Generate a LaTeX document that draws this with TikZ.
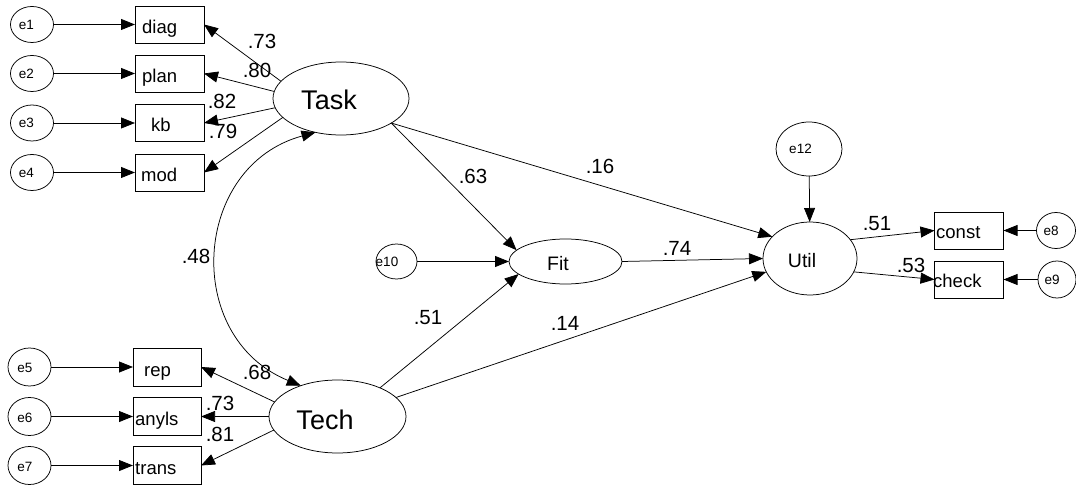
\documentclass[tikz,border=0pt]{standalone}
\usepackage{fontspec}
\setmainfont{Liberation Sans}
\usetikzlibrary{shapes.geometric,arrows.meta}

\tikzset{
  lat/.style={draw, ellipse, inner sep=0pt, outer sep=0pt, line width=0.75pt},
  obs/.style={draw, rectangle, inner sep=0pt, outer sep=0pt, line width=0.75pt,
              minimum width=69pt, minimum height=37pt},
  err/.style={lat, minimum width=43pt, minimum height=36pt},
  arr/.style={line width=0.75pt, -{Triangle[length=14pt,width=11pt]}},
  cov/.style={line width=0.75pt, {Triangle[length=14pt,width=11pt]}-{Triangle[length=14pt,width=11pt]}},
  boxtxt/.style={inner sep=0pt, anchor=base west, font=\fontsize{18.5}{20}\selectfont},
  lattxt/.style={inner sep=0pt, anchor=base},
  etxt/.style={inner sep=0pt, anchor=base, font=\fontsize{13.5}{15}\selectfont},
  coef/.style={inner sep=0pt, font=\fontsize{20.5}{22}\selectfont}
}

\begin{document}
\begin{tikzpicture}[x=1pt, y=-1pt]
\useasboundingbox (0,0) rectangle (1076,486);

% latent variables
\node[lat, minimum width=136pt, minimum height=73pt] (Task) at (341,98.5) {};
\node[lat, minimum width=137pt, minimum height=73pt] (Tech) at (337.5,416.5) {};
\node[lat, minimum width=113pt, minimum height=45pt] (Fit) at (565.5,261.5) {};
\node[lat, minimum width=94pt, minimum height=73pt] (Util) at (810,258.5) {};
\node[lattxt, font=\fontsize{27}{30}\selectfont] (tTask) at (329,110) {Task};
\node[lattxt, font=\fontsize{27}{30}\selectfont] (tTech) at (325,429) {Tech};
\node[lattxt, font=\fontsize{19.5}{21}\selectfont] (tFit) at (558,271) {Fit};
\node[lattxt, font=\fontsize{19.5}{21}\selectfont] (tUtil) at (802,268) {Util};

% indicators
\node[obs] (diag)  at (169.5,24.5) {};
\node[obs] (plan)  at (169.5,73.5) {};
\node[obs] (kb)    at (169.5,123) {};
\node[obs] (mod)   at (169.5,172.5) {};
\node[obs, minimum width=68pt, minimum height=38pt] (rep)   at (167,367) {};
\node[obs, minimum width=68pt, minimum height=38pt] (anyls) at (167,416.5) {};
\node[obs, minimum width=68pt, minimum height=38pt] (trans) at (167,465.5) {};
\node[obs] (const) at (969,230.5) {};
\node[obs] (check) at (969,279.5) {};

\node[boxtxt] (tdiag)  at (142,33.5) {diag};
\node[boxtxt] (tplan)  at (142,82.5) {plan};
\node[boxtxt] (tkb)    at (151,132) {kb};
\node[boxtxt] (tmod)   at (141,181.5) {mod};
\node[boxtxt] (trep)   at (144,376) {rep};
\node[boxtxt] (tanyls) at (135,425.5) {anyls};
\node[boxtxt] (ttrans) at (135,474.5) {trans};
\node[boxtxt] (tconst) at (936,239) {const};
\node[boxtxt] (tcheck) at (933,288) {check};

% error terms
\node[err] (e1) at (32,24.5) {};
\node[err] (e2) at (32,73.5) {};
\node[err] (e3) at (32,123) {};
\node[err] (e4) at (32,172.5) {};
\node[err, minimum height=38pt] (e5) at (29.5,367) {};
\node[err, minimum height=38pt] (e6) at (29.5,416.5) {};
\node[err, minimum height=38pt] (e7) at (29.5,465.5) {};
\node[err, minimum width=39pt] (e8) at (1056,230.5) {};
\node[err, minimum width=38pt, minimum height=37pt] (e9) at (1057,279.5) {};
\node[err, minimum width=41pt, minimum height=35pt] (e10) at (396.5,261.5) {};
\node[err, minimum width=66pt, minimum height=54pt] (e12) at (809,149) {};

\node[etxt] (te1) at (26.5,29.5) {e1};
\node[etxt] (te2) at (26.5,78.5) {e2};
\node[etxt] (te3) at (26.5,128) {e3};
\node[etxt] (te4) at (26.5,177.5) {e4};
\node[etxt] (te5) at (25,372.5) {e5};
\node[etxt] (te6) at (25,422) {e6};
\node[etxt] (te7) at (25,471) {e7};
\node[etxt] (te8) at (1051,235.5) {e8};
\node[etxt] (te9) at (1052,284.5) {e9};
\node[etxt] (te10) at (387,266.5) {e10};
\node[etxt] (te12) at (800.5,154) {e12};

% error paths
\draw[arr] (e1) -- (diag);
\draw[arr] (e2) -- (plan);
\draw[arr] (e3) -- (kb);
\draw[arr] (e4) -- (mod);
\draw[arr] (e5) -- (rep);
\draw[arr] (e6) -- (anyls);
\draw[arr] (e7) -- (trans);
\draw[arr] (e8) -- (const);
\draw[arr] (e9) -- (check);
\draw[arr] (e10) -- (Fit);
\draw[arr] (e12) -- (Util);

% measurement paths
\draw[arr] (Task.164) -- (diag.east);
\draw[arr] (Task.174) -- (plan.east);
\draw[arr] (Task.188) -- (kb.east);
\draw[arr] (Task.198) -- (mod.east);
\draw[arr] (Tech.167) -- (rep.east);
\draw[arr] (Tech.180) -- (anyls.east);
\draw[arr] (Tech.192) -- (trans.east);
\draw[arr] (Util.25) -- (const.west);
\draw[arr] (Util.343) -- (check.west);

% structural paths
\draw[arr] (Task.334) -- (Fit.167);
\draw[arr] (Task.334) -- (Util.150);
\draw[arr] (Tech.34) -- (Fit.195);
\draw[arr] (Tech.18) -- (Util.197);
\draw[arr] (Fit.east) -- (Util.west);

% covariance
\draw[cov] (Task.233) .. controls (192,166) and (182,337) .. (Tech.140);

% coefficients
\node[coef] (c1) at (262,41) {.73};
\node[coef] (c2) at (257,70) {.80};
\node[coef] (c3) at (222,101) {.82};
\node[coef] (c4) at (223,131) {.79};
\node[coef] (c5) at (257,372) {.68};
\node[coef] (c6) at (220,403) {.73};
\node[coef] (c7) at (220,434) {.81};
\node[coef] (c8) at (473,176) {.63};
\node[coef] (c9) at (600,166) {.16};
\node[coef] (c10) at (196,256) {.48};
\node[coef] (c11) at (428,318) {.51};
\node[coef] (c12) at (565,323) {.14};
\node[coef] (c13) at (677,248) {.74};
\node[coef] (c14) at (877,224) {.51};
\node[coef] (c15) at (911,265) {.53};
\end{tikzpicture}
\end{document}
